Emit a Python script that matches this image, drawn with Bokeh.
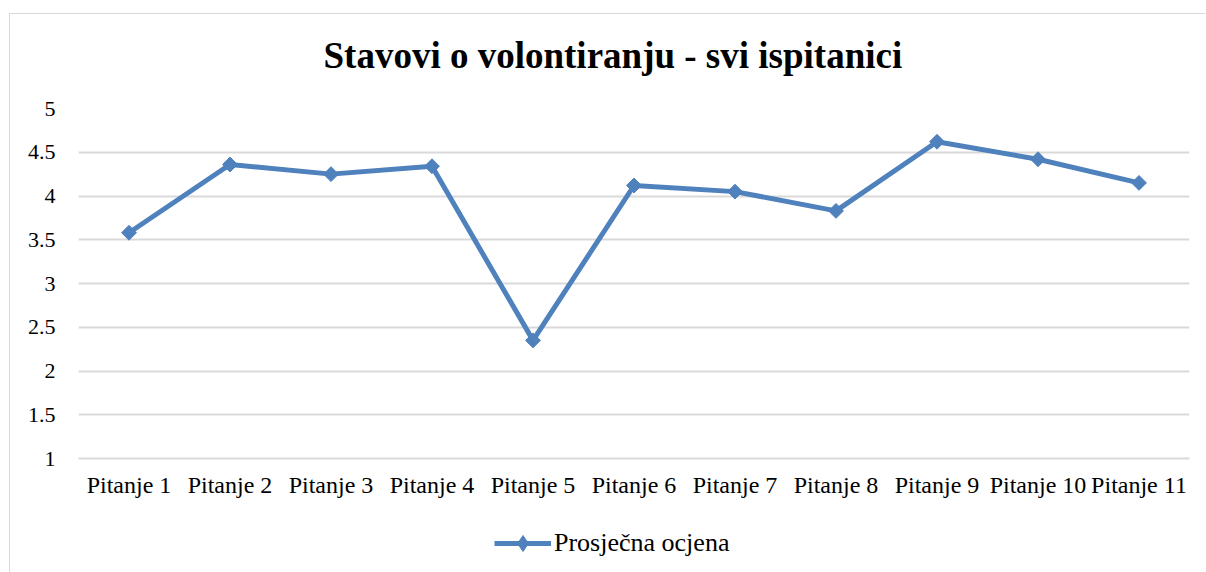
import math
from bokeh.plotting import figure
from bokeh.layouts import column
from bokeh.models import FixedTicker, Legend, LegendItem, ColumnDataSource, Range1d
from bokeh.embed import file_html
from bokeh.resources import INLINE

categories = ["Pitanje 1", "Pitanje 2", "Pitanje 3", "Pitanje 4", "Pitanje 5", "Pitanje 6",
              "Pitanje 7", "Pitanje 8", "Pitanje 9", "Pitanje 10", "Pitanje 11"]
values = [3.58, 4.36, 4.25, 4.34, 2.35, 4.12, 4.05, 3.83, 4.62, 4.42, 4.15]
y_ticks = [1, 1.5, 2, 2.5, 3, 3.5, 4, 4.5, 5]
y_labels = ["1", "1.5", "2", "2.5", "3", "3.5", "4", "4.5", "5"]
series_name = "Prosječna ocjena"
title_text = "Stavovi o volontiranju - svi ispitanici"

FONT = "Liberation Serif"
BLUE = "#4F81BD"
GRID = "#D9D9D9"

src = ColumnDataSource(dict(x=categories, y=values))

# title strip
p0 = figure(width=1195, height=82, x_range=categories, y_range=Range1d(-10, -9),
            output_backend="svg", toolbar_location=None,
            x_axis_type=None, y_axis_type=None,
            min_border_left=68, min_border_right=16, min_border_top=0, min_border_bottom=0)
p0.outline_line_color = None
p0.grid.visible = False
p0.title.text = title_text
p0.title.text_font = FONT
p0.title.text_font_size = "37px"
p0.title.text_font_style = "bold"
p0.title.text_color = "#000000"
p0.title.align = "left"
p0.title.offset = 245
p0.title.standoff = 36

# main chart
p = figure(width=1195, height=420, x_range=categories, y_range=(1, 5),
           output_backend="svg", toolbar_location=None,
           min_border_left=68, min_border_right=16, min_border_top=12, min_border_bottom=58)
p.x_range.range_padding = 0
p.outline_line_color = None

line = p.line("x", "y", source=src, line_color=BLUE, line_width=5)
mark = p.scatter("x", "y", source=src, marker="square", size=10.5, angle=math.pi / 4,
                 fill_color=BLUE, line_color=BLUE)

p.yaxis.ticker = FixedTicker(ticks=y_ticks)
p.yaxis.major_label_overrides = {t: l for t, l in zip(y_ticks, y_labels)}
p.yaxis.axis_line_color = None
p.yaxis.major_tick_line_color = None
p.yaxis.minor_tick_line_color = None
p.yaxis.major_label_text_font = FONT
p.yaxis.major_label_text_font_size = "22px"
p.yaxis.major_label_text_color = "#000000"
p.yaxis.major_label_standoff = 17

p.xaxis.axis_line_color = GRID
p.xaxis.axis_line_width = 2
p.xaxis.major_tick_line_color = None
p.xaxis.minor_tick_line_color = None
p.xaxis.major_label_text_font = FONT
p.xaxis.major_label_text_font_size = "24px"
p.xaxis.major_label_text_color = "#000000"
p.xaxis.major_label_standoff = 7

p.xgrid.grid_line_color = None
p.ygrid.grid_line_color = GRID
p.ygrid.grid_line_width = 2
p.ygrid.ticker = FixedTicker(ticks=y_ticks)

# legend strip below the chart (series drawn out of view, only its legend entry shows)
p2 = figure(width=1195, height=57, output_backend="svg", toolbar_location=None,
            x_range=categories, y_range=Range1d(-10, -9),
            x_axis_type=None, y_axis_type=None, min_border=0,
            min_border_left=0, min_border_right=0, min_border_top=0, min_border_bottom=0)
p2.outline_line_color = None
p2.grid.visible = False
lg_line = p2.line("x", "y", source=src, line_color=BLUE, line_width=5)
lg_mark = p2.scatter("x", "y", source=src, marker="diamond", size=16,
                     fill_color=BLUE, line_color=BLUE)
legend = Legend(items=[LegendItem(label=series_name, renderers=[lg_line, lg_mark])],
                location=(416, 10), orientation="horizontal",
                label_text_font=FONT, label_text_font_size="26px", label_text_color="#000000",
                glyph_width=57, glyph_height=40, border_line_color=None,
                background_fill_alpha=0, label_standoff=3, padding=0, margin=0)
p2.add_layout(legend, "center")

layout = column(p0, p, p2, spacing=0, margin=(13, 0, 0, 9),
                styles={"border-top": "1px solid #D9D9D9", "border-left": "1px solid #D9D9D9"})

open("out.html", "w").write(file_html(layout, INLINE))
